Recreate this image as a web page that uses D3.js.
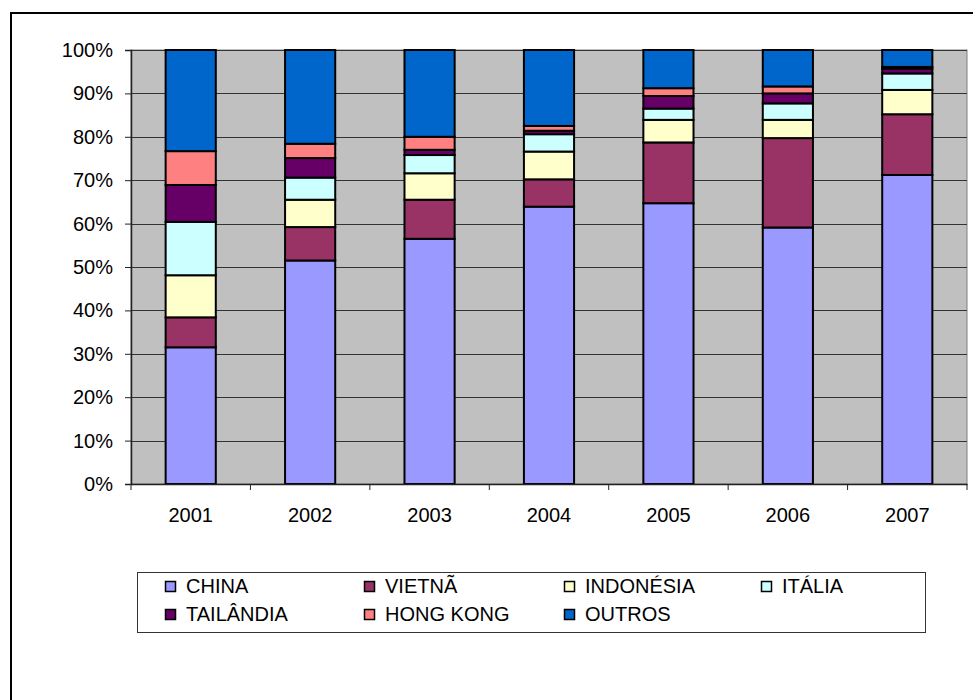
<!DOCTYPE html>
<html>
<head>
<meta charset="utf-8">
<script src="https://cdn.jsdelivr.net/npm/d3@7"></script>
<style>
  html, body { margin: 0; padding: 0; background: #fff; }
  svg { display: block; font-family: "Liberation Sans", Arial, sans-serif; }
</style>
</head>
<body>
<svg id="chart" width="973" height="700"></svg>
<script>
const years = ["2001", "2002", "2003", "2004", "2005", "2006", "2007"];
const seriesNames = ["CHINA", "VIETNÃ", "INDONÉSIA", "ITÁLIA", "TAILÂNDIA", "HONG KONG", "OUTROS"];
const china     = [31.5, 51.5, 56.5, 63.9, 64.7, 59.1, 71.2];
const vietna    = [6.9, 7.7, 9.0, 6.3, 14.0, 20.6, 14.0];
const indonesia = [9.7, 6.3, 6.1, 6.4, 5.2, 4.2, 5.6];
const italia    = [12.3, 5.1, 4.2, 4.0, 2.6, 3.8, 3.8];
const tailandia = [8.5, 4.5, 1.2, 0.8, 2.9, 2.3, 1.1];
const hongkong  = [7.8, 3.3, 3.0, 1.1, 1.8, 1.6, 0.4];
const outros    = [23.3, 21.6, 20.0, 17.5, 8.8, 8.4, 3.9];
const yTicks = [0, 10, 20, 30, 40, 50, 60, 70, 80, 90, 100];
const colors = ["#9999FF", "#993366", "#FFFFCC", "#CCFFFF", "#660066", "#FF8080", "#0066CC"];

const seriesValues = [china, vietna, indonesia, italia, tailandia, hongkong, outros];
const table = years.map((yr, i) => {
  const row = { year: yr };
  seriesNames.forEach((s, k) => row[s] = seriesValues[k][i]);
  return row;
});

const svg = d3.select("#chart");
const FONT = 20;

// outer chart border (extends beyond right/bottom edge)
svg.append("rect").attr("x", 11).attr("y", 13).attr("width", 1000).attr("height", 1000)
  .attr("fill", "#fff").attr("stroke", "#000").attr("stroke-width", 2);

const pLeft = 131, pRight = 967, pTop = 50, pBottom = 484;

const x = d3.scaleBand().domain(years).range([pLeft, pRight]).padding(0);
const y = d3.scaleLinear().domain([0, 100]).range([pBottom, pTop]);

// plot background
svg.append("rect").attr("x", pLeft).attr("y", pTop).attr("width", pRight - pLeft).attr("height", pBottom - pTop)
  .attr("fill", "#C0C0C0").attr("stroke", "#808080").attr("stroke-width", 1);

// gridlines
svg.append("g").selectAll("line").data(yTicks.filter(t => t > 0)).join("line")
  .attr("x1", pLeft).attr("x2", pRight)
  .attr("y1", d => Math.round(y(d)) + 0.5).attr("y2", d => Math.round(y(d)) + 0.5)
  .attr("stroke", "#333").attr("stroke-width", 1);

// stacked bars
const stack = d3.stack().keys(seriesNames);
const stacked = stack(table);
const barW = x.bandwidth() * 0.42;

svg.append("g").selectAll("g").data(stacked).join("g")
  .attr("fill", (d, i) => colors[i])
  .selectAll("rect").data(d => d).join("rect")
  .attr("x", d => x(d.data.year) + (x.bandwidth() - barW) / 2)
  .attr("width", barW)
  .attr("y", d => y(d[1]))
  .attr("height", d => y(d[0]) - y(d[1]))
  .attr("stroke", "#000").attr("stroke-width", 2);

// y axis
const yAxis = d3.axisLeft(y).tickValues(yTicks).tickFormat(d => d + "%").tickSize(6).tickPadding(12);
const gy = svg.append("g").attr("transform", `translate(${pLeft},0)`).call(yAxis);
gy.select(".domain").attr("stroke", "#222").attr("stroke-width", 1.5);
gy.selectAll(".tick line").attr("stroke", "#222");
gy.selectAll(".tick text").attr("font-size", FONT).attr("fill", "#000")
  .attr("font-family", "Liberation Sans, Arial, sans-serif");

// x axis
const xAxis = d3.axisBottom(x).tickSize(0).tickPadding(24);
const gx = svg.append("g").attr("transform", `translate(0,${pBottom})`).call(xAxis);
gx.select(".domain").attr("stroke", "#222").attr("stroke-width", 1.5);
gx.selectAll(".tick text").attr("font-size", FONT).attr("fill", "#000")
  .attr("font-family", "Liberation Sans, Arial, sans-serif");
// category boundary ticks
const boundaries = years.map(yr => x(yr)).concat([pRight]);
gx.append("g").selectAll("line").data(boundaries).join("line")
  .attr("x1", d => d).attr("x2", d => d)
  .attr("y1", 0).attr("y2", 6).attr("stroke", "#222");

// legend
const lg = svg.append("g");
lg.append("rect").attr("x", 137.5).attr("y", 572.5).attr("width", 788).attr("height", 60)
  .attr("fill", "#fff").attr("stroke", "#333").attr("stroke-width", 1);
const colX = [165, 364, 564, 761];
const rowY = [586, 614];
const items = lg.selectAll("g.item").data(seriesNames).join("g").attr("class", "item")
  .attr("transform", (d, i) => `translate(${colX[i % 4]},${rowY[Math.floor(i / 4)]})`);
items.append("rect").attr("x", 0.5).attr("y", -4.5).attr("width", 10).attr("height", 10)
  .attr("fill", (d, i) => colors[i]).attr("stroke", "#000").attr("stroke-width", 1.5);
items.append("text").attr("x", 21).attr("y", 0).attr("dy", "0.36em")
  .attr("font-size", FONT).attr("fill", "#000").text(d => d);
</script>
</body>
</html>
